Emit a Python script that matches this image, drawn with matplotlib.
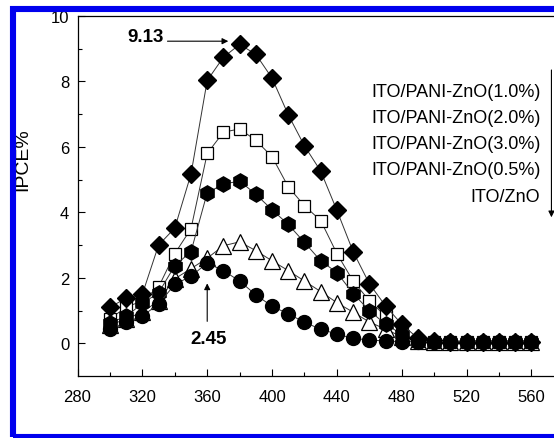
# IPCE spectra of ITO/PANI-ZnO devices
import matplotlib.pyplot as plt
from matplotlib.patches import Rectangle

plt.rcParams['font.family'] = ['Liberation Sans', 'DejaVu Sans']

wavelength = list(range(300, 570, 10))
tail = [0.05] * 6

ipce_10 = [1.1, 1.38, 1.5, 3.0, 3.52, 5.17, 8.03, 8.74, 9.13, 8.83, 8.1, 6.98, 6.03,
           5.26, 4.06, 2.8, 1.82, 1.14, 0.58, 0.15, 0.06] + tail
ipce_20 = [0.75, 1.1, 1.3, 1.72, 2.74, 3.5, 5.8, 6.45, 6.55, 6.2, 5.7, 4.78, 4.2,
           3.75, 2.74, 1.9, 1.3, 0.83, 0.28, 0.08, 0.05] + tail
ipce_30 = [0.63, 0.82, 1.22, 1.54, 2.37, 2.8, 4.6, 4.86, 4.96, 4.55, 4.08, 3.63, 3.08,
           2.52, 2.16, 1.52, 1.0, 0.58, 0.28, 0.08, 0.05] + tail
ipce_05 = [0.55, 0.75, 0.95, 1.3, 1.97, 2.28, 2.6, 2.98, 3.1, 2.83, 2.52, 2.22, 1.9,
           1.58, 1.24, 0.95, 0.65, 0.43, 0.2, 0.08, 0.05] + tail
ipce_zno = [0.43, 0.65, 0.83, 1.2, 1.8, 2.05, 2.45, 2.22, 1.9, 1.48, 1.13, 0.9, 0.64,
            0.43, 0.28, 0.15, 0.1, 0.07, 0.05, 0.05, 0.05] + tail

labels = ["ITO/PANI-ZnO(1.0%)", "ITO/PANI-ZnO(2.0%)", "ITO/PANI-ZnO(3.0%)",
          "ITO/PANI-ZnO(0.5%)", "ITO/ZnO"]

fig = plt.figure(figsize=(5.54, 4.39), dpi=100)
ax = fig.add_axes([0.1399, 0.1412, 0.878, 0.8201])

line = dict(color='#333333', lw=0.7)
ax.plot(wavelength, ipce_05, marker='^', ms=11, mfc='white', mec='black', mew=0.9, **line)
ax.plot(wavelength, ipce_20, marker='s', ms=9, mfc='white', mec='black', mew=0.9, **line)
ax.plot(wavelength, ipce_30, marker='h', ms=11, mfc='black', mec='black', **line)
ax.plot(wavelength, ipce_10, marker='D', ms=9, mfc='black', mec='black', **line)
ax.plot(wavelength, ipce_zno, marker='o', ms=10, mfc='black', mec='black', **line)

ax.set_xlim(280, 580)
ax.set_ylim(-1, 10)
ax.set_xticks(range(280, 580, 40))
ax.set_xticks(range(300, 580, 40), minor=True)
ax.set_yticks(range(0, 11, 2))
ax.set_yticks(range(1, 10, 2), minor=True)
ax.tick_params(which='both', direction='in', labelsize=12, width=0.8)
ax.tick_params(which='major', length=5)
ax.tick_params(which='minor', length=3)
ax.tick_params(axis='x', pad=9)
ax.tick_params(axis='y', pad=6)
ax.spines['right'].set_visible(False)
for s in ['left', 'bottom', 'top']:
    ax.spines[s].set_linewidth(0.9)

# peak annotations
ax.text(310.6, 9.23, "9.13", fontsize=13.5, fontweight='bold', va='baseline', ha='left')
ax.annotate("", xy=(373, 9.23), xytext=(335.5, 9.23),
            arrowprops=dict(arrowstyle='-|>', color='black', lw=0.8, mutation_scale=9,
                            shrinkA=0, shrinkB=0))
ax.text(361, 0.15, "2.45", fontsize=13.5, fontweight='bold', va='center', ha='center')
ax.annotate("", xy=(360, 1.83), xytext=(360, 0.67),
            arrowprops=dict(arrowstyle='-|>', color='black', lw=0.8, mutation_scale=9,
                            shrinkA=0, shrinkB=0))

# order labels with downward arrow
for i, lab in enumerate(labels):
    ax.text(565.5, 7.7 - 0.8 * i, lab, fontsize=13, ha='right', va='center')
ax.annotate("", xy=(572.3, 3.85), xytext=(572.3, 8.35),
            arrowprops=dict(arrowstyle='-|>', color='black', lw=0.8, mutation_scale=9,
                            shrinkA=0, shrinkB=0))

fig.text(23 / 554, 1 - 160 / 439, "IPCE%", rotation=90, fontsize=14,
         ha='center', va='center')
fig.text(300 / 554, 1 - 443 / 439, "λ / nm", fontsize=13, ha='center', va='center')

# blue frame around the figure
fig.add_artist(Rectangle((13 / 554, 1 - 438 / 439), 560 / 554, 428.5 / 439,
                         transform=fig.transFigure, fill=False,
                         edgecolor='#0000ee', lw=4.4, zorder=10))

fig.savefig("out.png", dpi=100)
